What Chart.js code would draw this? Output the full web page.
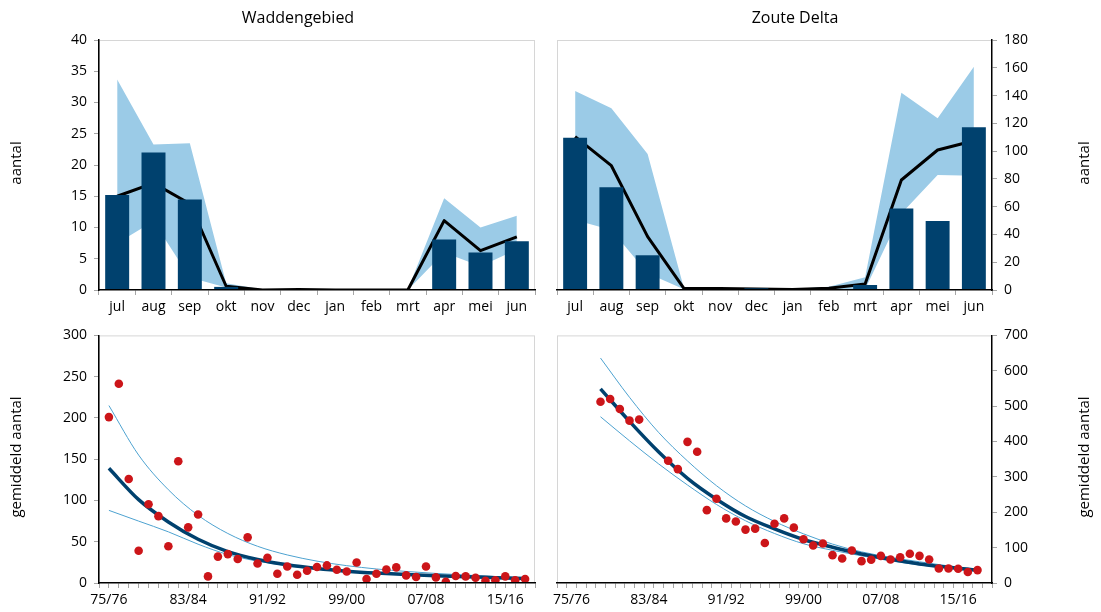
<!DOCTYPE html>
<html>
<head>
<meta charset="utf-8">
<script src="https://cdn.jsdelivr.net/npm/chart.js@4/dist/chart.umd.min.js"></script>
<style>
  html, body { margin: 0; padding: 0; background: #fff; }
  #wrap { position: relative; width: 1101px; height: 612px; overflow: hidden; }
  canvas { position: absolute; }
</style>
</head>
<body>
<div id="wrap">
  <canvas id="c1" width="550" height="320" style="left:0;top:0"></canvas>
  <canvas id="c2" width="551" height="320" style="left:550px;top:0"></canvas>
  <canvas id="c3" width="550" height="292" style="left:0;top:320px"></canvas>
  <canvas id="c4" width="551" height="292" style="left:550px;top:320px"></canvas>
</div>
<script>
// Months of the season (July to June)
const months = ['jul', 'aug', 'sep', 'okt', 'nov', 'dec', 'jan', 'feb', 'mrt', 'apr', 'mei', 'jun'];

// Waddengebied: current season, long-term mean and range per month
const waddenSeason = [15.2, 22.0, 14.5, 0.5, 0, 0.05, 0, 0, 0, 8.1, 6.0, 7.8];
const waddenMean   = [15.0, 17.1, 13.8, 0.6, 0, 0.1, 0, 0, 0, 11.1, 6.3, 8.5];
const waddenHigh   = [33.7, 23.3, 23.5, 1.1, 0.1, 0.1, 0, 0, 0.1, 14.7, 10.0, 11.9];
const waddenLow    = [7.5, 11.0, 2.0, 0.4, 0, 0, 0, 0, 0, 6.0, 3.8, 6.5];

// Zoute Delta: current season, long-term mean and range per month
const deltaSeason = [109.7, 73.9, 25.0, 0.3, 0.2, 1.2, 0.2, 0.3, 3.6, 58.6, 49.7, 117.1];
const deltaMean   = [110.4, 89.5, 38.4, 1.2, 1.0, 0.7, 0.3, 1.2, 4.3, 79.2, 100.8, 107.5];
const deltaHigh   = [143.3, 130.8, 97.9, 1.5, 0.8, 0.8, 0.8, 2.4, 9.1, 142.0, 123.6, 160.8];
const deltaLow    = [50.4, 43.2, 12.0, 0.5, 0.3, 0.2, 0, 0.2, 0.5, 55.0, 82.8, 82.3];

// Seasons 75/76 .. 17/18
const seasons = ['75/76','76/77','77/78','78/79','79/80','80/81','81/82','82/83','83/84','84/85',
  '85/86','86/87','87/88','88/89','89/90','90/91','91/92','92/93','93/94','94/95',
  '95/96','96/97','97/98','98/99','99/00','00/01','01/02','02/03','03/04','04/05',
  '05/06','06/07','07/08','08/09','09/10','10/11','11/12','12/13','13/14','14/15',
  '15/16','16/17','17/18'];

// Seasonal averages per season (null = no count)
const waddenYearly = [201, 241.5, 126, 39, 95.5, 81, 44.5, 147.6, 67.4, 83,
  8, 32, 35, 29, 55.3, 23.7, 30.5, 11.2, 20, 10,
  14.8, 19.3, 21.3, 16, 14, 24.9, 4.8, 11.2, 16.4, 18.9,
  9.2, 7.2, 20, 6.8, 1.6, 8.4, 8, 6.4, 2.8, 3.2,
  8, 3.2, 4.8];
const deltaYearly = [null, null, null, 512.6, 520, 492, 459, 462, null, null,
  345.8, 322, 399, 371, 206, 238, 182.7, 174, 151, 153.7,
  113, 167.7, 182.7, 156.5, 123.7, 106, 111.5, 78.7, 69.3, 91.8,
  61.8, 65.6, 76.8, 66.5, 73, 82.5, 76.8, 66.5, 41.2, 41.2,
  40.3, 31, 36.5];

// Trend line with its confidence limits, every third season
const waddenTrendIdx = [0, 3, 6, 9, 12, 15, 18, 21, 24, 27, 30, 33, 36, 39, 42];
const waddenTrend    = [139, 101, 74, 53, 38, 28.5, 22, 17.5, 14.3, 12, 10.3, 8.8, 7.5, 6.5, 5.5];
const waddenUpper    = [215, 155, 113, 82, 60, 44.5, 34, 26.5, 21, 17, 14, 11.6, 9.6, 7.8, 6.2];
const waddenLower    = [88, 75, 62, 47, 34.5, 26.5, 21, 17, 14.2, 12, 10.2, 8.6, 7.2, 6, 5];

const deltaTrendIdx = [3, 6, 9, 12, 15, 18, 21, 24, 27, 30, 33, 36, 39, 42];
const deltaTrend    = [549, 457, 371, 296, 237, 188, 153, 123, 101, 82, 67, 54, 44.5, 36];
const deltaUpper    = [636, 525, 426, 345, 275, 218, 174, 139, 110, 88, 72.6, 60, 48.4, 39];
const deltaLower    = [470, 402, 337, 277, 222, 176, 140, 111, 92.5, 77, 62.7, 51, 41, 33];

const NAVY = '#00416e';
const BAND = '#9bcbe7';
const RED = '#cc1519';
const THIN = '#4da2d0';
const TICK = '#a6a6a6';
const FRAME = '#d6d6d6';
const FONT = '"Open Sans", "DejaVu Sans", sans-serif';

Chart.defaults.font.family = FONT;
Chart.defaults.font.size = 14;
Chart.defaults.color = '#000';

// Light frame around the plot area; the black axis lines go over it
const framePlugin = {
  id: 'frame',
  beforeDraw(chart) {
    const { ctx, chartArea: a } = chart;
    ctx.save();
    ctx.strokeStyle = FRAME;
    ctx.lineWidth = 1;
    ctx.strokeRect(a.left + 0.5, a.top + 0.5, a.right - a.left - 1, a.bottom - a.top - 1);
    ctx.restore();
  }
};

// Panel title and vertical axis title
const panelText = {
  id: 'panelText',
  afterDraw(chart, args, o) {
    const ctx = chart.ctx;
    ctx.save();
    ctx.fillStyle = '#000';
    ctx.textAlign = 'center';
    ctx.textBaseline = 'middle';
    if (o.title) {
      ctx.font = '16px ' + FONT;
      ctx.fillText(o.title, o.titleX, o.titleY);
    }
    if (o.yTitle) {
      ctx.translate(o.yTitleX, o.yTitleY);
      ctx.rotate(-Math.PI / 2);
      ctx.font = '15px ' + FONT;
      ctx.fillText(o.yTitle, 0, 0);
    }
    ctx.restore();
  }
};
Chart.register(framePlugin, panelText);

function monthChart(id, season, mean, high, low, yMax, yStep, yPos, padding, axisWidth, text) {
  return new Chart(document.getElementById(id), {
    type: 'bar',
    data: {
      labels: months,
      datasets: [
        { type: 'bar', data: season, backgroundColor: NAVY, borderWidth: 0,
          categoryPercentage: 1, barPercentage: 0.66, order: 0 },
        { type: 'line', data: mean, borderColor: '#000', borderWidth: 3, pointRadius: 0,
          fill: false, tension: 0, borderJoinStyle: 'round', order: 1 },
        { type: 'line', data: high, borderColor: 'rgba(0,0,0,0)', borderWidth: 0, pointRadius: 0,
          backgroundColor: BAND, fill: '+1', tension: 0, order: 2 },
        { type: 'line', data: low, borderColor: 'rgba(0,0,0,0)', borderWidth: 0, pointRadius: 0,
          fill: false, tension: 0, order: 2 }
      ]
    },
    options: {
      responsive: false,
      animation: false,
      layout: { padding },
      plugins: { legend: { display: false }, tooltip: { enabled: false }, panelText: text },
      scales: {
        x: {
          offset: true,
          grid: { offset: true, drawOnChartArea: false, tickLength: 5, tickColor: TICK },
          border: { color: '#000', width: 1.5, z: 1 },
          ticks: { padding: 4, maxRotation: 0, autoSkip: false, font: { size: 14 } },
          afterFit(s) { s.height = 30; }
        },
        y: {
          position: yPos, min: 0, max: yMax,
          ticks: { stepSize: yStep, padding: 7, font: { size: 14 } },
          grid: { drawOnChartArea: false, tickLength: 5, tickColor: TICK },
          border: { color: '#000', width: 1.5, z: 1 },
          afterFit(s) { s.width = axisWidth; }
        }
      }
    }
  });
}

function pts(idx, vals) { return idx.map((x, k) => ({ x, y: vals[k] })); }

function trendChart(id, yearly, tIdx, tVal, uVal, lVal, yMax, yStep, yPos,
                    padding, axisWidth, xMin, xMax, text) {
  const points = [];
  yearly.forEach((v, i) => { if (v !== null) points.push({ x: i, y: v }); });
  const curve = (data, color, width) => ({
    type: 'line', data, borderColor: color, borderWidth: width, pointRadius: 0,
    fill: false, showLine: true, cubicInterpolationMode: 'monotone', order: 2
  });
  const between = xMin % 1 !== 0;
  return new Chart(document.getElementById(id), {
    type: 'scatter',
    data: {
      datasets: [
        { type: 'scatter', data: points, backgroundColor: RED, borderWidth: 0, pointRadius: 4.3, order: 0 },
        curve(pts(tIdx, tVal), NAVY, 3.5),
        curve(pts(tIdx, uVal), THIN, 1),
        curve(pts(tIdx, lVal), THIN, 1)
      ]
    },
    options: {
      responsive: false,
      animation: false,
      layout: { padding },
      plugins: { legend: { display: false }, tooltip: { enabled: false }, panelText: text },
      scales: {
        x: {
          type: 'linear', min: xMin, max: xMax,
          afterBuildTicks(s) {
            const t = [];
            const step = between ? 0.5 : 1;
            for (let v = xMin; v <= xMax + 1e-9; v += step) t.push({ value: v });
            s.ticks = t;
          },
          ticks: {
            autoSkip: false, maxRotation: 0, padding: 4, font: { size: 14 },
            callback(v) {
              return (Number.isInteger(v) && v >= 0 && v % 8 === 0 && seasons[v]) ? seasons[v] : '';
            }
          },
          grid: {
            drawOnChartArea: false, tickLength: 5,
            tickColor: (c) => (between && Number.isInteger(c.tick.value)) ? 'rgba(0,0,0,0)' : TICK
          },
          border: { color: '#000', width: 1.5, z: 1 },
          afterFit(s) { s.height = 29; }
        },
        y: {
          position: yPos, min: 0, max: yMax,
          ticks: { stepSize: yStep, padding: 7, font: { size: 14 } },
          grid: { drawOnChartArea: false, tickLength: 5, tickColor: TICK },
          border: { color: '#000', width: 1.5, z: 1 },
          afterFit(s) { s.width = axisWidth; }
        }
      }
    }
  });
}

monthChart('c1', waddenSeason, waddenMean, waddenHigh, waddenLow, 40, 5, 'left',
  { left: 0, right: 15, top: 40, bottom: 0 }, 99,
  { title: 'Waddengebied', titleX: 298, titleY: 18, yTitle: 'aantal', yTitleX: 17, yTitleY: 163 });

monthChart('c2', deltaSeason, deltaMean, deltaHigh, deltaLow, 180, 20, 'right',
  { left: 7, right: 0, top: 40, bottom: 0 }, 109,
  { title: 'Zoute Delta', titleX: 245, titleY: 18, yTitle: 'aantal', yTitleX: 535, yTitleY: 163 });

trendChart('c3', waddenYearly, waddenTrendIdx, waddenTrend, waddenUpper, waddenLower,
  300, 50, 'left', { left: 0, right: 15, top: 13, bottom: 0 }, 99, -1, 43,
  { yTitle: 'gemiddeld aantal', yTitleX: 17, yTitleY: 137 });

trendChart('c4', deltaYearly, deltaTrendIdx, deltaTrend, deltaUpper, deltaLower,
  700, 100, 'right', { left: 7, right: 0, top: 13, bottom: 0 }, 109, -1.5, 43.5,
  { yTitle: 'gemiddeld aantal', yTitleX: 535, yTitleY: 137 });
</script>
</body>
</html>
